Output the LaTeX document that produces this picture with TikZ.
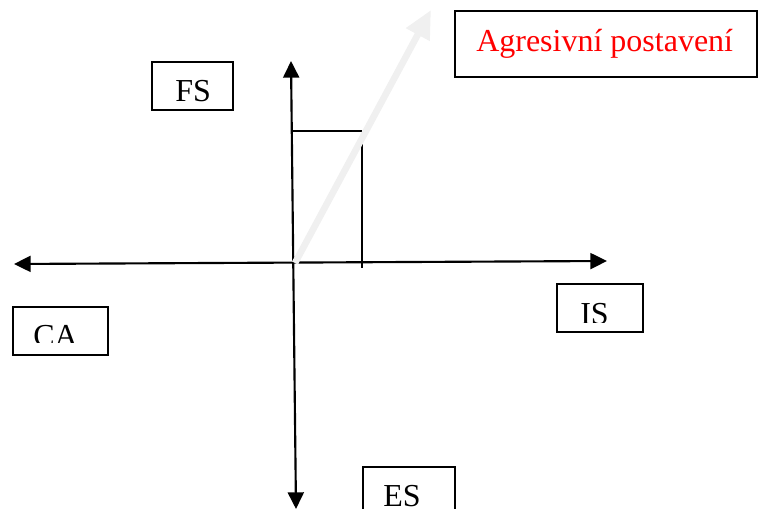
\documentclass[tikz,border=0pt]{standalone}
\usepackage{fontspec}
\setmainfont{Liberation Serif}
\usetikzlibrary{arrows.meta,calc}
\definecolor{pale}{RGB}{240,240,240}

\begin{document}
\begin{tikzpicture}[x=0.75pt,y=-0.75pt,font=\fontsize{24}{28}\selectfont,
  b/.style={draw,line width=1.3pt,inner sep=0pt,minimum height=36pt},
  lab/.style={anchor=base west,inner sep=0pt},
  ax/.style={line width=1.6pt,{Triangle[length=12.5pt,width=12pt]}-{Triangle[length=12.5pt,width=12pt]}}]
\useasboundingbox (0,0) rectangle (761,509);
% axes
\coordinate (o) at (295,263);
\coordinate (w) at (14,264);
\coordinate (e) at (607,261);
\coordinate (n) at (291,61);
\coordinate (s) at (296,509);
\draw[ax] (w) -- (e);
\draw[ax] (n) -- (s);
% projection lines
\coordinate (p1) at (292,131);
\coordinate (p2) at (362,131);
\coordinate (p3) at (362,142);
\coordinate (p4) at (362,268);
\draw[line width=1.4pt] (p1) -- (p2);
\draw[line width=1.4pt] (p3) -- (p4);
% position vector
\coordinate (g) at (431,10);
\draw[pale,line width=5pt,-{Triangle[length=21pt,width=19pt]}] (o) -- (g);
% labels
\node[b,minimum width=60.75pt] (fs) at (192.5,86) {};
\node[lab] (fsl) at (175,102) {FS};
\node[b,line width=2pt,minimum width=226.5pt,minimum height=49.5pt] (ap) at (606,44) {};
\node[lab,red] (apl) at (476,52) {Agresivní postavení};
\node[b,minimum width=71.25pt] (ca) at (60.5,331) {};
\begin{scope}
  \clip (ca.north west) rectangle (108,343);
  \node[lab] (cal) at (33,347) {CA};
\end{scope}
\node[b,minimum width=64.5pt] (is) at (600,308) {};
\begin{scope}
  \clip (is.north west) rectangle (643,323);
  \node[lab] (isl) at (580,325) {IS};
\end{scope}
\node[b,minimum width=69pt] (es) at (409,491) {};
\node[lab] (esl) at (383,507) {ES};
\end{tikzpicture}
\end{document}
